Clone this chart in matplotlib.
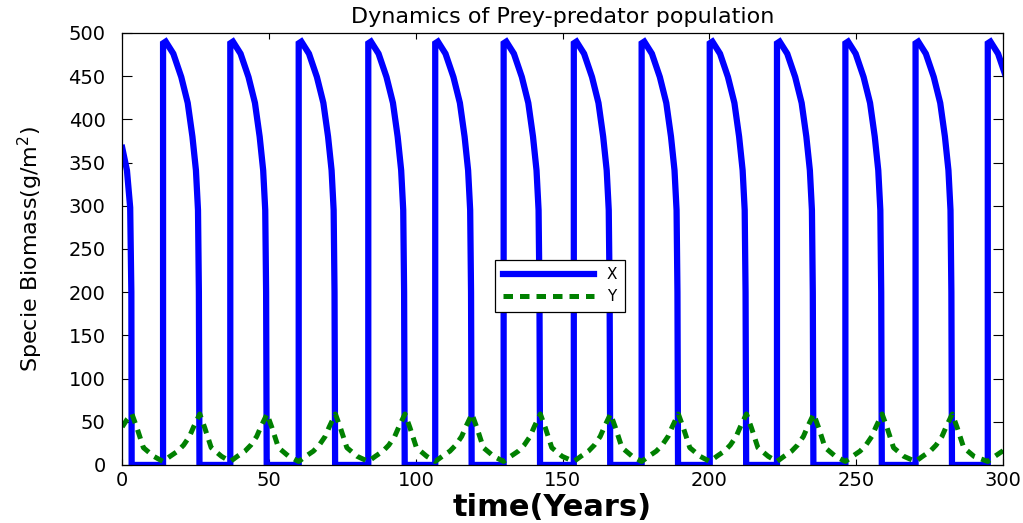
import matplotlib
matplotlib.use("Agg")
import matplotlib.pyplot as plt
import numpy as np

# Prey (X): first partial cycle, then the times where X jumps up again
x_start_t = [0.0, 1.6, 2.7, 3.1, 3.2]
x_start_v = [367, 341, 298, 200, 0]
x_rise_times = [13.9, 36.8, 60.1, 83.8, 106.6, 129.9, 153.8, 176.9,
                200.1, 223.0, 246.3, 270.2, 294.8]
# one X cycle (years after the jump, biomass)
x_cycle_dt = [0.0, 0.0, 0.9, 3.5, 6.2, 8.4, 10.0, 11.2, 11.9, 12.2, 12.4]
x_cycle_v = [0, 488, 490, 476, 449, 419, 380, 341, 295, 200, 0]

# Predator (Y)
y_start_t = [0.0, 1.7, 3.3, 5.0, 7.2, 10.7]
y_start_v = [44, 53, 59, 43, 20, 10]
y_cycle_dt = [0.0, 2.4, 5.0, 7.0, 9.0, 10.4, 12.5, 14.2, 16.4, 19.9]
y_cycle_v = [4, 10, 16, 23, 33, 44, 59, 43, 20, 10]

x_ticks = [0, 50, 100, 150, 200, 250, 300]
y_ticks = [0, 50, 100, 150, 200, 250, 300, 350, 400, 450, 500]


def build(start_t, start_v, cycle_dt, cycle_v):
    t = list(start_t)
    v = list(start_v)
    for tr in x_rise_times:
        t += [tr + d for d in cycle_dt]
        v += list(cycle_v)
    return np.array(t), np.array(v)


tx, vx = build(x_start_t, x_start_v, x_cycle_dt, x_cycle_v)
ty, vy = build(y_start_t, y_start_v, y_cycle_dt, y_cycle_v)

fig = plt.figure(figsize=(10.23, 5.23), dpi=100)
ax = fig.add_axes([0.1195, 0.111, 0.861, 0.826])

ax.plot(tx, vx, color=(0, 0, 1), lw=4.5, label="X", solid_joinstyle="miter")
ax.plot(ty, vy, color=(0, 0.5, 0), lw=3.6, ls="--", dashes=(1.9, 1.4), label="Y")

ax.set_xlim(0, 300)
ax.set_ylim(0, 500)
ax.set_xticks(x_ticks)
ax.set_yticks(y_ticks)
ax.tick_params(axis="both", direction="in", top=True, right=True,
               labelsize=14, width=0.8, colors="black")
ax.tick_params(axis="x", length=4, pad=4)
ax.tick_params(axis="y", length=7.5, pad=12)
for s in ax.spines.values():
    s.set_linewidth(0.9)

ax.set_title("Dynamics of Prey-predator population", fontsize=16, pad=7)
ax.set_xlabel("time(Years)", fontsize=22, fontweight="bold", labelpad=1)
ax.xaxis.set_label_coords(0.488, -0.065)
ax.set_ylabel(r"Specie Biomass(g/m$^2$)", fontsize=16, labelpad=17)

leg = ax.legend(loc="center", bbox_to_anchor=(0.497, 0.415), fontsize=11,
                handlelength=6.0, handletextpad=0.8, fancybox=False,
                framealpha=1, edgecolor="black", borderpad=0.5,
                labelspacing=0.45)
leg.get_frame().set_linewidth(0.9)

fig.savefig("out.png", dpi=100)
